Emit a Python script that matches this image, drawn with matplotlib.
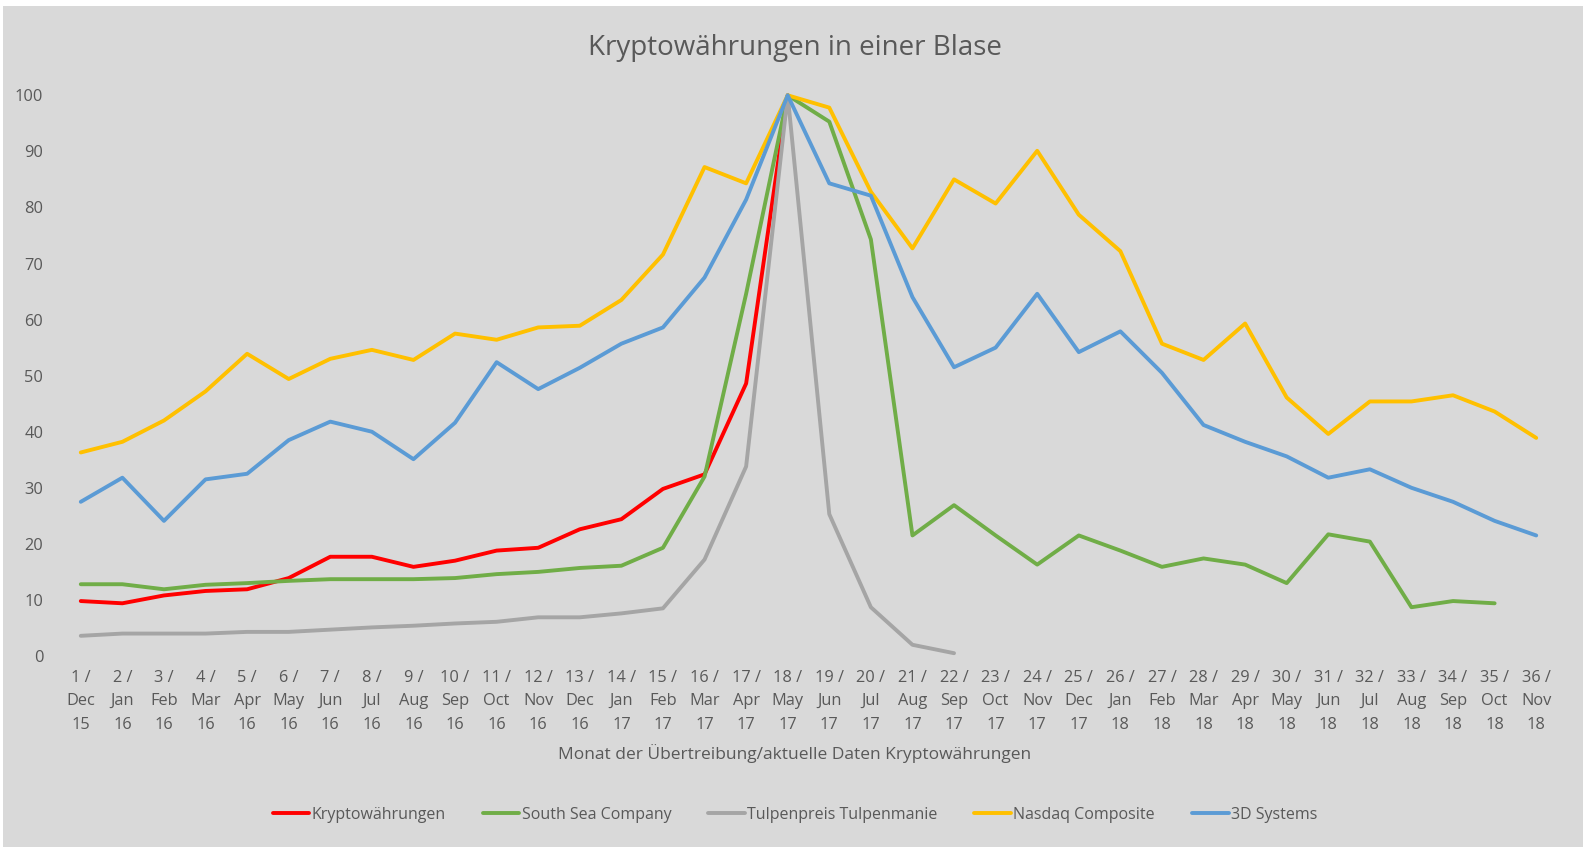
import matplotlib
matplotlib.use("Agg")
import matplotlib.pyplot as plt
from matplotlib.patches import Rectangle

plt.rcParams['font.family'] = ['Open Sans', 'DejaVu Sans']

months = ["Dec\n15", "Jan\n16", "Feb\n16", "Mar\n16", "Apr\n16", "May\n16", "Jun\n16", "Jul\n16",
          "Aug\n16", "Sep\n16", "Oct\n16", "Nov\n16", "Dec\n16", "Jan\n17", "Feb\n17", "Mar\n17",
          "Apr\n17", "May\n17", "Jun\n17", "Jul\n17", "Aug\n17", "Sep\n17", "Oct\n17", "Nov\n17",
          "Dec\n17", "Jan\n18", "Feb\n18", "Mar\n18", "Apr\n18", "May\n18", "Jun\n18", "Jul\n18",
          "Aug\n18", "Sep\n18", "Oct\n18", "Nov\n18"]
tick_labels = [f"{i + 1} /\n{m}" for i, m in enumerate(months)]

krypto = [9.8, 9.4, 10.8, 11.6, 11.9, 13.9, 17.7, 17.7, 15.9, 17.0, 18.8, 19.3, 22.6, 24.4,
          29.8, 32.4, 48.6, 100]
south_sea = [12.8, 12.8, 11.9, 12.7, 13.0, 13.4, 13.7, 13.7, 13.7, 13.9, 14.6, 15.0, 15.7, 16.1,
             19.3, 32.0, 64.6, 100, 95.3, 74.3, 21.5, 26.9, 21.5, 16.3, 21.5, 18.8, 15.9, 17.4,
             16.3, 13.0, 21.7, 20.4, 8.7, 9.8, 9.4]
tulpen = [3.6, 4.0, 4.0, 4.0, 4.3, 4.3, 4.7, 5.1, 5.4, 5.8, 6.1, 6.9, 6.9, 7.6, 8.5, 17.2, 33.8,
          100, 25.3, 8.7, 2.0, 0.5]
nasdaq = [36.3, 38.2, 42.0, 47.2, 53.9, 49.4, 53.0, 54.6, 52.8, 57.5, 56.4, 58.6, 58.9, 63.5,
          71.6, 87.2, 84.3, 100, 97.8, 82.8, 72.7, 85.0, 80.7, 90.1, 78.7, 72.2, 55.7, 52.8,
          59.3, 46.1, 39.6, 45.4, 45.4, 46.5, 43.6, 38.9]
systems3d = [27.5, 31.8, 24.1, 31.5, 32.5, 38.5, 41.8, 40.0, 35.1, 41.6, 52.4, 47.6, 51.4, 55.7,
             58.6, 67.5, 81.4, 100, 84.3, 82.1, 64.0, 51.5, 55.0, 64.6, 54.2, 57.9, 50.5, 41.2,
             38.2, 35.6, 31.8, 33.3, 30.0, 27.5, 24.1, 21.5]

series = [
    ("Kryptowährungen", krypto, "#FF0000"),
    ("South Sea Company", south_sea, "#70AD47"),
    ("Tulpenpreis Tulpenmanie", tulpen, "#A5A5A5"),
    ("Nasdaq Composite", nasdaq, "#FFC000"),
    ("3D Systems", systems3d, "#5B9BD5"),
]

W, H = 1590, 855
fig = plt.figure(figsize=(W / 100, H / 100), dpi=100, facecolor="white")
bg = Rectangle((3 / W, (H - 847) / H), (1583 - 3) / W, (847 - 6) / H,
               transform=fig.transFigure, facecolor="#D9D9D9", edgecolor="none", zorder=-10)
fig.patches.append(bg)

ax = fig.add_axes([60 / W, (H - 656) / H, (1557 - 60) / W, (656 - 95.3) / H])
ax.set_zorder(5)
ax.set_facecolor("none")
for name, vals, col in series:
    xs = list(range(1, len(vals) + 1))
    ax.plot(xs, vals, color=col, lw=2.8, label=name, solid_joinstyle="round",
            solid_capstyle="round", clip_on=False)

ax.set_xlim(0.5, 36.5)
ax.set_ylim(0, 100)
ax.set_yticks(range(0, 101, 10))
ax.set_xticks(range(1, 37))
ax.set_xticklabels(tick_labels, linespacing=1.62)
for s in ax.spines.values():
    s.set_visible(False)
ax.tick_params(axis="both", length=0, labelsize=11.8, colors="#595959")
ax.tick_params(axis="x", pad=10)
ax.tick_params(axis="y", pad=12)

fig.text(0.5, (H - 47.5) / H, "Kryptowährungen in einer Blase", ha="center", va="center",
         fontsize=20, color="#595959")
fig.text(0.5, (H - 754) / H, "Monat der Übertreibung/aktuelle Daten Kryptowährungen",
         ha="center", va="center", fontsize=12.5, color="#595959")

leg = fig.legend(loc="center", bbox_to_anchor=(0.5, (H - 815) / H), ncol=5, frameon=False,
                 fontsize=11.5, handlelength=2.3, handletextpad=0.15, columnspacing=2.3,
                 labelcolor="#595959")

fig.savefig("out.png", dpi=100, facecolor="white")
